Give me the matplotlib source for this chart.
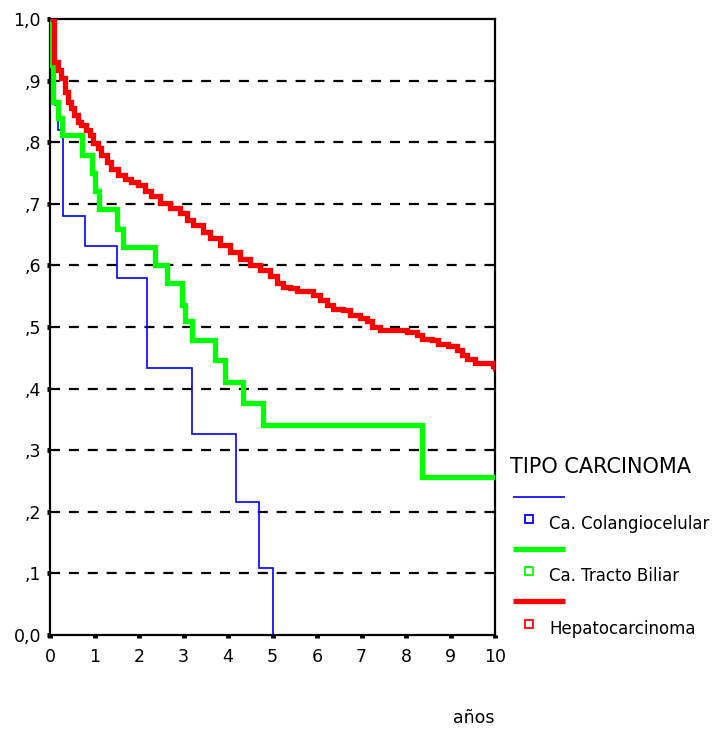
import matplotlib
matplotlib.use("Agg")
import matplotlib.pyplot as plt
from matplotlib.lines import Line2D

# ---- data ----
series_names = ["Ca. Colangiocelular", "Ca. Tracto Biliar", "Hepatocarcinoma"]
series_colors = ["#0000ff", "#00ff00", "#ff0000"]

t_colangio = [0, 0.03, 0.08, 0.12, 0.19, 0.285, 0.79, 1.51, 2.19, 3.18, 4.19, 4.70, 5.02]
s_colangio = [1.0, 0.95, 0.91, 0.86, 0.82, 0.68, 0.632, 0.58, 0.434, 0.326, 0.216, 0.109, 0.0]

t_biliar = [0, 0.02, 0.07, 0.18, 0.26, 0.71, 0.94, 1.0, 1.11, 1.51, 1.65, 2.36, 2.62,
            2.96, 3.03, 3.18, 3.71, 3.93, 4.34, 4.79, 8.37, 10.0]
s_biliar = [1.0, 0.925, 0.866, 0.84, 0.812, 0.779, 0.75, 0.72, 0.692, 0.659, 0.630, 0.601,
            0.571, 0.536, 0.509, 0.479, 0.446, 0.411, 0.376, 0.341, 0.256, 0.256]

t_hepato = [0, 0.08, 0.18, 0.25, 0.33, 0.40, 0.48, 0.55, 0.63, 0.70, 0.82, 0.89, 0.97,
            1.08, 1.15, 1.27, 1.38, 1.53, 1.68, 1.83, 1.98, 2.13, 2.28, 2.47, 2.70, 2.92,
            3.07, 3.22, 3.44, 3.60, 3.82, 4.04, 4.27, 4.49, 4.72, 4.94, 5.09, 5.24, 5.39,
            5.54, 5.77, 5.92, 6.07, 6.22, 6.37, 6.59, 6.74, 6.97, 7.12, 7.23, 7.42, 7.71,
            8.02, 8.24, 8.35, 8.58, 8.73, 8.95, 9.14, 9.25, 9.36, 9.55, 9.81, 9.96, 10.0]
s_hepato = [1.0, 0.93, 0.918, 0.904, 0.882, 0.866, 0.855, 0.844, 0.833, 0.828, 0.820,
            0.812, 0.798, 0.790, 0.779, 0.768, 0.757, 0.747, 0.741, 0.736, 0.731, 0.720,
            0.712, 0.701, 0.693, 0.685, 0.674, 0.666, 0.655, 0.644, 0.633, 0.622, 0.611,
            0.601, 0.593, 0.582, 0.571, 0.565, 0.564, 0.558, 0.558, 0.552, 0.544, 0.536,
            0.529, 0.528, 0.519, 0.514, 0.509, 0.500, 0.495, 0.495, 0.492, 0.487, 0.480,
            0.479, 0.472, 0.469, 0.463, 0.455, 0.448, 0.442, 0.441, 0.436, 0.428]

x_ticks = list(range(0, 11))
y_ticks = [0.0, 0.1, 0.2, 0.3, 0.4, 0.5, 0.6, 0.7, 0.8, 0.9, 1.0]
y_ticklabels = ["0,0", ",1", ",2", ",3", ",4", ",5", ",6", ",7", ",8", ",9", "1,0"]
legend_title = "TIPO CARCINOMA"
x_label = "años"

# ---- figure ----
plt.rcParams['font.family'] = ['DejaVu Sans']
W, H = 726, 731
fig = plt.figure(figsize=(W / 100, H / 100), dpi=100)
ax = fig.add_axes([50 / W, 1 - 635 / H, 445 / W, 616 / H])
ax.set_xlim(0, 10)
ax.set_ylim(0, 1)

for yv in y_ticks[1:-1]:
    ax.axhline(yv, color="black", lw=1.6, dashes=(4.5, 4), zorder=1)

widths = [1.2, 3.8, 3.8]
data = [(t_colangio, s_colangio), (t_biliar, s_biliar), (t_hepato, s_hepato)]
for i, ((t, s), c, w) in enumerate(zip(data, series_colors, widths)):
    ax.plot(t, s, drawstyle="steps-post", color=c, lw=w, zorder=3 + i,
            solid_joinstyle="miter", solid_capstyle="butt")

ax.set_xticks(x_ticks)
ax.set_xticklabels([str(v) for v in x_ticks])
ax.set_yticks(y_ticks)
ax.set_yticklabels(y_ticklabels)
ax.tick_params(direction="out", length=2.5, width=3.5, labelsize=12.5, pad=4)
ax.tick_params(axis="x", pad=7)
for sp in ax.spines.values():
    sp.set_linewidth(1.6)
    sp.set_color("black")

fig.text(495 / W, 1 - 718 / H, x_label, ha="right", va="center", fontsize=12.5)

# legend (drawn manually to match layout)
fig.text(510 / W, 1 - 467 / H, legend_title, ha="left", va="center", fontsize=15)
line_y = [497, 549, 601]
mark_y = [519, 571, 624]
for name, c, w, ly, my in zip(series_names, series_colors, widths, line_y, mark_y):
    fig.add_artist(Line2D([513 / W, 565 / W], [1 - ly / H, 1 - ly / H], color=c,
                          lw=w, transform=fig.transFigure, solid_capstyle="butt"))
    fig.add_artist(Line2D([529 / W], [1 - my / H], marker="s", markersize=5.5,
                          markerfacecolor="white", markeredgecolor=c, markeredgewidth=1.3,
                          linestyle="none", transform=fig.transFigure))
    fig.text(549 / W, 1 - (my + 5) / H, name, ha="left", va="center", fontsize=12)

fig.savefig("out.png", dpi=100, facecolor="white")
